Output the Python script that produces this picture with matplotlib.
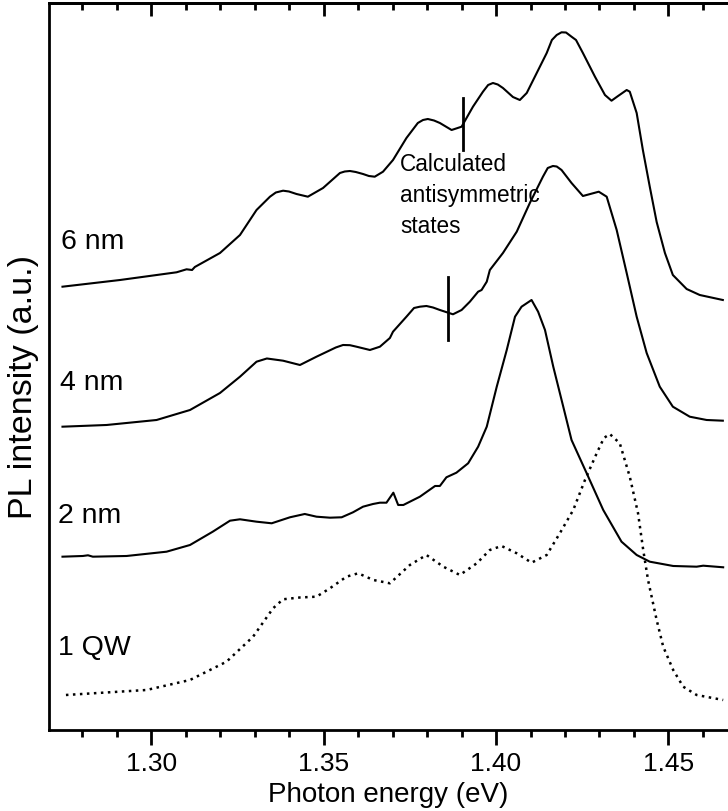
import numpy as np
import matplotlib.pyplot as plt
from matplotlib.ticker import MultipleLocator, FormatStrFormatter

plt.rcParams['font.family'] = ['Liberation Sans', 'DejaVu Sans']

# Espectros PL (energia em eV, intensidade em u.a. já com deslocamento vertical)
E_6nm = [1.2742, 1.2909, 1.3073, 1.3102, 1.3118, 1.3126, 1.3199, 1.3257, 1.3305, 1.3344,
         1.3361, 1.3382, 1.3399, 1.3421, 1.3454, 1.3498, 1.3547, 1.3561, 1.3576, 1.3593,
         1.3614, 1.3631, 1.3648, 1.3672, 1.3701, 1.3740, 1.3773, 1.3788, 1.3802, 1.3820,
         1.3837, 1.3871, 1.3900, 1.3933, 1.3962, 1.3977, 1.3991, 1.4005, 1.4020, 1.4049,
         1.4069, 1.4089, 1.4118, 1.4147, 1.4162, 1.4176, 1.4190, 1.4203, 1.4219, 1.4232,
         1.4252, 1.4287, 1.4316, 1.4335, 1.4354, 1.4379, 1.4388, 1.4408, 1.4426, 1.4446,
         1.4466, 1.4490, 1.4513, 1.4553, 1.4591, 1.4658]
I_6nm = [4.433, 4.50, 4.577, 4.607, 4.60, 4.63, 4.77, 4.95, 5.20, 5.333,
         5.375, 5.393, 5.385, 5.36, 5.333, 5.42, 5.57, 5.585, 5.59, 5.58,
         5.56, 5.54, 5.533, 5.583, 5.70, 5.92, 6.07, 6.10, 6.11, 6.095,
         6.07, 6.00, 6.033, 6.233, 6.383, 6.45, 6.47, 6.455, 6.42, 6.33,
         6.30, 6.37, 6.57, 6.77, 6.90, 6.95, 6.977, 6.975, 6.933, 6.90,
         6.77, 6.533, 6.35, 6.293, 6.34, 6.40, 6.383, 6.17, 5.80, 5.433,
         5.08, 4.77, 4.55, 4.41, 4.35, 4.30]

E_4nm = [1.2742, 1.2870, 1.3015, 1.3112, 1.3199, 1.3257, 1.3305, 1.3335, 1.3382, 1.3431,
         1.3479, 1.3535, 1.3556, 1.3576, 1.3595, 1.3634, 1.3663, 1.3692, 1.3701, 1.3740,
         1.3762, 1.3779, 1.3798, 1.3817, 1.3837, 1.3875, 1.3900, 1.3924, 1.3948, 1.3958,
         1.3973, 1.3982, 1.4020, 1.4060, 1.4098, 1.4136, 1.4150, 1.4165, 1.4176, 1.4190,
         1.4219, 1.4252, 1.4281, 1.4298, 1.4321, 1.4350, 1.4379, 1.4408, 1.4437, 1.4475,
         1.4513, 1.4562, 1.4611, 1.4658]
I_4nm = [3.033, 3.05, 3.10, 3.20, 3.37, 3.533, 3.683, 3.715, 3.693, 3.65,
         3.733, 3.825, 3.85, 3.848, 3.833, 3.80, 3.833, 3.92, 3.983, 4.133,
         4.22, 4.233, 4.24, 4.225, 4.20, 4.157, 4.20, 4.283, 4.383, 4.40,
         4.483, 4.60, 4.77, 4.983, 5.27, 5.533, 5.62, 5.64, 5.635, 5.60,
         5.47, 5.34, 5.367, 5.383, 5.333, 5.00, 4.57, 4.133, 3.77, 3.433,
         3.233, 3.133, 3.10, 3.093]

E_2nm = [1.2742, 1.2801, 1.2816, 1.2830, 1.2928, 1.3044, 1.3112, 1.3178, 1.3228, 1.3257,
         1.3305, 1.3349, 1.3402, 1.3445, 1.3479, 1.3518, 1.3552, 1.3585, 1.3614, 1.3643,
         1.3663, 1.3682, 1.3702, 1.3716, 1.3731, 1.3779, 1.3823, 1.3837, 1.3856, 1.3885,
         1.3919, 1.3948, 1.3973, 1.4002, 1.4031, 1.4055, 1.4074, 1.4103, 1.4122, 1.4142,
         1.4166, 1.4195, 1.4219, 1.4263, 1.4311, 1.4364, 1.4408, 1.4446, 1.4514, 1.4582,
         1.4601, 1.4659]
I_2nm = [1.733, 1.74, 1.747, 1.733, 1.74, 1.783, 1.85, 1.983, 2.093, 2.107,
         2.083, 2.067, 2.127, 2.16, 2.133, 2.123, 2.127, 2.177, 2.233, 2.26,
         2.273, 2.273, 2.373, 2.25, 2.25, 2.333, 2.44, 2.44, 2.527, 2.573,
         2.667, 2.833, 3.033, 3.433, 3.80, 4.133, 4.233, 4.30, 4.183, 4.00,
         3.633, 3.233, 2.90, 2.567, 2.20, 1.883, 1.75, 1.683, 1.64, 1.633,
         1.643, 1.627]

E_1qw = [1.2752, 1.2986, 1.3112, 1.3218, 1.3295, 1.3353, 1.3382, 1.3431, 1.3479, 1.3518,
         1.3566, 1.3600, 1.3644, 1.3692, 1.3750, 1.3798, 1.3847, 1.3895, 1.3944, 1.3982,
         1.4016, 1.4060, 1.4103, 1.4147, 1.4185, 1.4224, 1.4258, 1.4292, 1.4313, 1.4330,
         1.4359, 1.4388, 1.4412, 1.4427, 1.4441, 1.4466, 1.4485, 1.4514, 1.4543, 1.4582,
         1.4659]
I_1qw = [0.35, 0.40, 0.50, 0.683, 0.933, 1.217, 1.307, 1.325, 1.333, 1.417,
         1.533, 1.567, 1.50, 1.467, 1.65, 1.75, 1.633, 1.55, 1.667, 1.80,
         1.84, 1.767, 1.673, 1.75, 1.967, 2.20, 2.50, 2.767, 2.92, 2.96,
         2.867, 2.533, 2.167, 1.80, 1.50, 1.10, 0.833, 0.60, 0.433, 0.35,
         0.30]

# Marcas dos estados antissimétricos calculados: (energia, y_inf, y_sup)
marcas = [(1.3905, 5.80, 6.32), (1.3861, 3.90, 4.533)]

rotulos = ['6 nm', '4 nm', '2 nm', '1 QW']
pos_rotulos = [(1.2739, 4.81), (1.2735, 3.40), (1.2730, 2.073), (1.2730, 0.75)]

fig = plt.figure(figsize=(7.28, 8.11), dpi=100)
ax = fig.add_axes([0.0669, 0.0999, 0.9331, 0.8964])

ax.plot(E_6nm, I_6nm, color='black', lw=1.5)
ax.plot(E_4nm, I_4nm, color='black', lw=1.5)
ax.plot(E_2nm, I_2nm, color='black', lw=1.5)
ax.plot(E_1qw, I_1qw, color='black', lw=1.8, linestyle=(0, (1, 1.8)))

for e, y0, y1 in marcas:
    ax.plot([e, e], [y0, y1], color='black', lw=2.0)

for txt, (x, y) in zip(rotulos, pos_rotulos):
    ax.text(x, y, txt, fontsize=20.5, va='baseline', ha='left')

ax.text(1.3721, 5.77, 'Calculated\nantisymmetric\nstates', fontsize=16.3,
        va='top', ha='left', linespacing=1.45)

ax.set_xlim(1.2702, 1.4673)
ax.set_ylim(0, 7.27)

ax.xaxis.set_major_locator(MultipleLocator(0.05))
ax.xaxis.set_minor_locator(MultipleLocator(0.01))
ax.xaxis.set_major_formatter(FormatStrFormatter('%.2f'))
ax.tick_params(axis='x', which='major', direction='out', length=11, width=2,
               labelsize=19, pad=5)
ax.tick_params(axis='x', which='minor', direction='out', length=5, width=2)
ax.set_yticks([])

top = ax.secondary_xaxis('top')
top.xaxis.set_major_locator(MultipleLocator(0.05))
top.xaxis.set_minor_locator(MultipleLocator(0.01))
top.tick_params(axis='x', which='major', direction='in', length=9, width=2, labeltop=False)
top.tick_params(axis='x', which='minor', direction='in', length=5, width=2)
top.spines['top'].set_linewidth(2)

for s in ['left', 'bottom', 'top']:
    ax.spines[s].set_linewidth(2)
ax.spines['right'].set_visible(False)

ax.set_xlabel('Photon energy (eV)', fontsize=20, labelpad=4)
ax.set_ylabel('PL intensity (a.u.)', fontsize=24.5)
ax.yaxis.set_label_coords(-0.015, 0.472)

fig.savefig('out.png', dpi=100)
